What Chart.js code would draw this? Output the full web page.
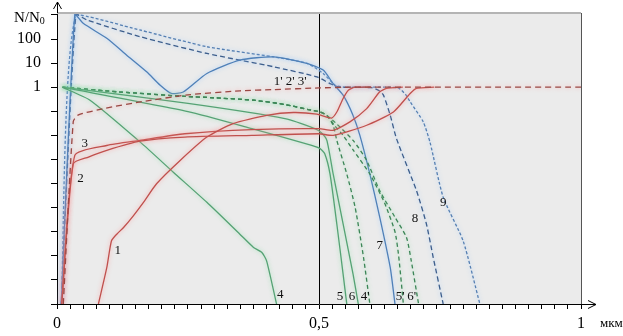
<!DOCTYPE html>
<html>
<head>
<meta charset="utf-8">
<script src="https://cdn.jsdelivr.net/npm/chart.js@4.4.1/dist/chart.umd.min.js"></script>
<style>
  html, body { margin: 0; padding: 0; background: #fff; }
</style>
</head>
<body>
<canvas id="chart" width="623" height="336"></canvas>
<script>
// curves: [x in мкм, N/N0]
const red1 = [[0.079,1e-9],[0.095,3.2e-8],[0.104,4.2e-7],[0.114,7.9e-7],[0.127,1.5e-6],[0.146,4.7e-6],[0.165,1.66e-5],[0.190,9.8e-5],[0.235,9.1e-4],[0.286,8.5e-3],[0.336,0.031],[0.400,0.068],[0.451,0.089],[0.496,0.076],[0.524,0.0525],[0.534,0.093],[0.546,0.339],[0.556,0.75],[0.569,1],[0.60,1]];
const red2 = [[0.009,1e-9],[0.031,6.6e-4],[0.06,1.26e-3],[0.095,2.4e-3],[0.158,5.75e-3],[0.244,8.5e-3],[0.372,0.01],[0.5,0.0117],[0.527,0.01],[0.591,0.0263],[0.642,0.0933],[0.674,0.55],[0.686,0.891],[0.72,1]];
const red3 = [[0.009,1e-9],[0.034,1.48e-3],[0.095,3.8e-3],[0.158,6.17e-3],[0.244,0.0117],[0.372,0.0174],[0.5,0.0191],[0.527,0.0162],[0.559,0.0363],[0.591,0.129],[0.616,0.646],[0.629,0.891],[0.66,1]];
const redDash = [[0.012,1e-9],[0.031,0.0372],[0.041,0.0708],[0.092,0.133],[0.162,0.251],[0.25,0.479],[0.349,0.708],[0.413,0.794],[0.5,0.933],[0.56,1],[1,1]];

const green4 = [[0.01,1],[0.063,0.288],[0.16,5e-3],[0.222,2.95e-4],[0.286,1.66e-5],[0.349,7.9e-7],[0.375,2.24e-7],[0.391,1.38e-7],[0.400,6.2e-8],[0.419,1e-9]];
const green5 = [[0.01,1],[0.25,0.0977],[0.372,0.0191],[0.486,3.8e-3],[0.502,2.82e-3],[0.511,1.74e-3],[0.521,2.5e-4],[0.534,2.1e-6],[0.546,1.74e-8],[0.553,1e-9]];
const green6 = [[0.01,1],[0.25,0.214],[0.435,0.05],[0.492,0.0191],[0.505,0.0126],[0.515,6.17e-3],[0.527,2.5e-4],[0.546,2.1e-6],[0.565,1.74e-8],[0.575,1e-9]];
// 4', 5', 6' share the same start
const greenDashHead = [[0.012,1],[0.12,0.63],[0.244,0.417],[0.30,0.363],[0.375,0.288],[0.435,0.191],[0.486,0.11],[0.502,0.0933],[0.515,0.0676]];
const green4dTail = [[0.527,0.0263],[0.534,6.17e-3],[0.553,2.5e-4],[0.569,1.02e-5],[0.585,8.5e-8],[0.597,1e-9]];
const green5dTail = [[0.53,0.0251],[0.546,0.01],[0.565,2.5e-3],[0.597,2.5e-4],[0.625,1.58e-5],[0.645,1e-6],[0.652,1e-7],[0.661,1e-9]];
const green6dTail = [[0.535,0.0282],[0.565,6.17e-3],[0.59,1e-3],[0.616,5e-5],[0.645,4e-6],[0.667,5.75e-7],[0.676,6.3e-8],[0.690,1e-9]];

const blue7 = [[0.008,1e-9],[0.034,1072],[0.050,447],[0.095,107],[0.133,21.4],[0.171,4.37],[0.197,1.2],[0.218,0.55],[0.241,0.631],[0.286,3.72],[0.349,13.3],[0.413,18.2],[0.477,9.77],[0.508,5.13],[0.527,1.41],[0.546,0.468],[0.565,0.0676],[0.578,0.01],[0.597,2.5e-4],[0.616,3.98e-6],[0.636,3.24e-8],[0.645,1e-9]];
const blue8 = [[0.008,1e-9],[0.036,1000],[0.057,617],[0.158,126],[0.286,25.1],[0.413,7.08],[0.496,2.69],[0.521,1.41],[0.54,1],[0.6,0.955],[0.615,0.708],[0.623,0.468],[0.636,0.0676],[0.648,7.2e-3],[0.686,5.1e-5],[0.705,2.1e-6],[0.718,8.5e-8],[0.737,1e-9]];
const blue9 = [[0.008,1e-9],[0.036,1000],[0.158,237],[0.286,47.9],[0.413,18.2],[0.477,9.77],[0.508,3.72],[0.531,1.2],[0.55,1],[0.65,0.955],[0.665,0.501],[0.674,0.245],[0.699,0.0363],[0.712,5e-3],[0.737,2.7e-5],[0.775,4.2e-7],[0.807,1e-9]];

// axis ticks
const yTicks = [1e-9,1e-8,1e-7,1e-6,1e-5,1e-4,1e-3,1e-2,1e-1,1,10,100,1000];
const yTickNames = {1: '1', 10: '10', 100: '100'};
const xTickStep = 0.025;
const xTickNames = [[0,'0'],[0.5,'0,5'],[1,'1']];

// curve labels and where they sit (x, N/N0)
const curveNames = ['1','2','3',"1' 2' 3'",'4','5','6',"4'","5'","6'",'7','8','9'];
const curveNameAt = [[0.116,1.6e-7],[0.045,1.6e-4],[0.053,4.5e-3],[0.445,1.78],[0.426,2.5e-9],[0.540,2.1e-9],[0.563,2.1e-9],[0.588,2.1e-9],[0.655,2.1e-9],[0.677,2.1e-9],[0.616,2.6e-7],[0.683,3.5e-6],[0.737,1.6e-5]];

const pts = arr => arr.map(p => ({x: p[0], y: p[1]}));

const RED = '#c0504d', RED_D = '#9a4844';
const GREEN = '#55a274', GREEN_D = '#3b8556';
const BLUE = '#4f80b8', BLUE_D = '#3d5e8c', BLUE_D2 = '#557fb2';
const GLOW_R = 'rgba(255,150,150,0.8)', GLOW_G = 'rgba(140,225,170,0.8)', GLOW_B = 'rgba(150,200,255,0.8)';

function line(data, color, glow, dash) {
  return {
    data: pts(data),
    borderColor: color,
    borderWidth: 1.3,
    borderDash: dash || [],
    pointRadius: 0,
    tension: 0.2,
    fill: false,
    glow: glow
  };
}

const datasets = [
  line(redDash, RED_D, GLOW_R, [6, 4]),
  line(red1, RED, GLOW_R),
  line(red2, RED, GLOW_R),
  line(red3, RED, GLOW_R),
  line(green4, GREEN, GLOW_G),
  line(green5, GREEN, GLOW_G),
  line(green6, GREEN, GLOW_G),
  line(greenDashHead.concat(green4dTail), GREEN_D, GLOW_G, [4, 3]),
  line(greenDashHead.concat(green5dTail), GREEN_D, GLOW_G, [4, 3]),
  line(greenDashHead.concat(green6dTail), GREEN_D, GLOW_G, [4, 3]),
  line(blue7, BLUE, GLOW_B),
  line(blue8, BLUE_D, GLOW_B, [5, 3]),
  line(blue9, BLUE_D2, GLOW_B, [3, 2])
];

const SERIF = '"Liberation Serif", "DejaVu Serif", serif';

const decor = {
  id: 'decor',
  beforeDraw(chart) {
    const {ctx, chartArea: a} = chart;
    ctx.save();
    ctx.fillStyle = '#ebebeb';
    ctx.fillRect(a.left, a.top, a.right - a.left, a.bottom - a.top);
    ctx.restore();
  },
  beforeDatasetsDraw(chart) {
    const {ctx, chartArea: a, scales} = chart;
    const xm = Math.round(scales.x.getPixelForValue(0.5)) + 0.5;
    ctx.save();
    ctx.strokeStyle = '#000';
    ctx.lineWidth = 1;
    ctx.beginPath();
    ctx.moveTo(xm, a.top);
    ctx.lineTo(xm, a.bottom);
    ctx.stroke();
    ctx.restore();
  },
  beforeDatasetDraw(chart, args) {
    const ctx = chart.ctx;
    ctx.save();
    ctx.shadowColor = chart.data.datasets[args.index].glow;
    ctx.shadowBlur = 4;
  },
  afterDatasetDraw(chart) {
    chart.ctx.restore();
  },
  afterDatasetsDraw(chart) {
    const {ctx, scales} = chart;
    ctx.save();
    ctx.fillStyle = '#111';
    ctx.font = '13px ' + SERIF;
    ctx.textAlign = 'center';
    ctx.textBaseline = 'middle';
    curveNames.forEach((t, i) => {
      const p = curveNameAt[i];
      ctx.fillText(t, scales.x.getPixelForValue(p[0]), scales.y.getPixelForValue(p[1]));
    });
    ctx.restore();
  },
  afterDraw(chart) {
    const {ctx, chartArea: a, scales} = chart;
    ctx.save();
    // top and right frame
    ctx.strokeStyle = '#b4b4b4';
    ctx.lineWidth = 2;
    ctx.beginPath();
    ctx.moveTo(a.left, a.top);
    ctx.lineTo(a.right, a.top);
    ctx.stroke();
    ctx.strokeStyle = '#555';
    ctx.lineWidth = 1;
    ctx.beginPath();
    ctx.moveTo(a.right + 0.5, a.top);
    ctx.lineTo(a.right + 0.5, a.bottom);
    ctx.stroke();
    // axis arrows
    const ax = Math.round(a.left) + 0.5, ay = Math.round(a.bottom) + 0.5;
    ctx.strokeStyle = '#000';
    ctx.beginPath();
    ctx.moveTo(ax, a.top);
    ctx.lineTo(ax, 2);
    ctx.moveTo(ax - 4, 9);
    ctx.lineTo(ax, 2);
    ctx.lineTo(ax + 4, 9);
    ctx.moveTo(a.right, ay);
    ctx.lineTo(596, ay);
    ctx.moveTo(588, ay - 4);
    ctx.lineTo(596, ay);
    ctx.lineTo(588, ay + 4);
    ctx.stroke();
    // axis titles
    ctx.fillStyle = '#000';
    ctx.textBaseline = 'alphabetic';
    ctx.font = '15px ' + SERIF;
    const yTop = scales.y.getPixelForValue(1000);
    ctx.fillText('N/N', 14, yTop + 7);
    const w = ctx.measureText('N/N').width;
    ctx.font = '10px ' + SERIF;
    ctx.fillText('0', 14 + w, yTop + 9);
    ctx.font = '13px ' + SERIF;
    ctx.textBaseline = 'middle';
    ctx.fillText('мкм', 600, 324);
    ctx.restore();
  }
};

new Chart(document.getElementById('chart').getContext('2d'), {
  type: 'line',
  data: { datasets: datasets },
  plugins: [decor],
  options: {
    responsive: false,
    animation: false,
    layout: { padding: { left: 0, top: 13, right: 42, bottom: 0 } },
    plugins: { legend: { display: false }, tooltip: { enabled: false } },
    scales: {
      x: {
        type: 'linear',
        min: 0,
        max: 1,
        afterFit(scale) { scale.height = 32; },
        afterBuildTicks(scale) {
          const t = [];
          for (let v = 0; v <= 1 + 1e-9; v += xTickStep) t.push({value: v});
          scale.ticks = t;
        },
        grid: { drawOnChartArea: false, tickLength: 5, color: '#000' },
        border: { display: true, color: '#000', width: 1 },
        ticks: {
          autoSkip: false,
          maxRotation: 0,
          padding: 5,
          color: '#000',
          font: { family: SERIF, size: 16 },
          callback(v) {
            const hit = xTickNames.find(n => Math.abs(n[0] - v) < 1e-6);
            return hit ? hit[1] : '';
          }
        }
      },
      y: {
        type: 'logarithmic',
        min: 1e-9,
        max: 1202,
        afterFit(scale) { scale.width = 57; },
        afterBuildTicks(scale) {
          scale.ticks = yTicks.map(v => ({value: v}));
        },
        grid: { drawOnChartArea: false, tickLength: 6, color: '#000' },
        border: { display: true, color: '#000', width: 1 },
        ticks: {
          autoSkip: false,
          padding: 10,
          color: '#000',
          // the unlabelled top tick gets a tiny font so it does not push the plot down
          font(c) {
            return (c.tick && c.tick.value === 1000) ? { family: SERIF, size: 2 } : { family: SERIF, size: 16 };
          },
          callback(v) { return yTickNames[v] || ''; }
        }
      }
    }
  }
});
</script>
</body>
</html>
